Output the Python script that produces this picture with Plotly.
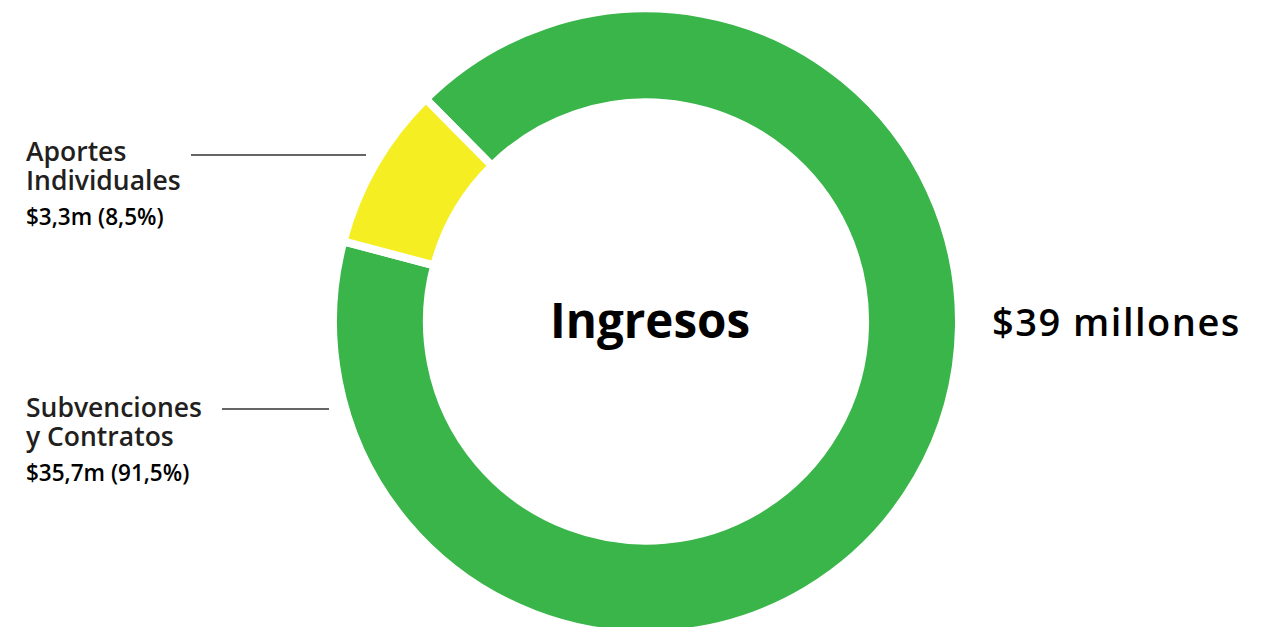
import plotly.graph_objects as go

categories = ["Subvenciones y Contratos", "Aportes Individuales"]
values = [35.7, 3.3]
colors = ["#39b54a", "#f5ee22"]
center_title = "Ingresos"
total_label = "$39 millones"
label_lines = {
    "Aportes Individuales": ["Aportes", "Individuales"],
    "Subvenciones y Contratos": ["Subvenciones", "y Contratos"],
}
value_labels = {
    "Aportes Individuales": "$3,3m (8,5%)",
    "Subvenciones y Contratos": "$35,7m (91,5%)",
}

W, H = 1273, 627
OFF = 8  # page body margin

def px(x):
    return (x - OFF) / W

def py(y):
    return 1 - (y - OFF) / H

fig = go.Figure(go.Pie(
    labels=categories,
    values=values,
    hole=0.70,
    sort=False,
    direction="clockwise",
    rotation=-44.7,
    marker=dict(colors=colors, line=dict(color="white", width=8)),
    textinfo="none",
    hoverinfo="label+value",
    showlegend=False,
    domain=dict(x=[px(646 - 313), px(646 + 313)], y=[0, 1]),
))

label_color = "#231f20"
head_font = dict(family="Open Sans", size=26.5, color=label_color, weight=600)
val_font = dict(family="Open Sans", size=22.5, color="#000000", weight=600)

ann = []
pos = {
    "Aportes Individuales": (24, [151, 180], 217),
    "Subvenciones y Contratos": (24, [407, 436], 472),
}
for cat in categories:
    x0, ys, yv = pos[cat]
    for line, yy in zip(label_lines[cat], ys):
        ann.append(dict(x=px(x0), y=py(yy), xref="paper", yref="paper", text=line,
                        showarrow=False, xanchor="left", yanchor="middle", font=head_font))
    ann.append(dict(x=px(x0), y=py(yv), xref="paper", yref="paper", text=value_labels[cat],
                    showarrow=False, xanchor="left", yanchor="middle", font=val_font))

ann.append(dict(x=px(650), y=py(319), xref="paper", yref="paper", text=center_title,
                showarrow=False, xanchor="center", yanchor="middle",
                font=dict(family="Open Sans", size=47.5, color="#000000", weight=700)))
ann.append(dict(x=px(990), y=py(321), xref="paper", yref="paper",
                text='<span style="letter-spacing:1.5px">' + total_label + '</span>',
                showarrow=False, xanchor="left", yanchor="middle",
                font=dict(family="Open Sans", size=38, color="#000000", weight=600)))

shapes = [
    dict(type="line", xref="paper", yref="paper", x0=px(191), x1=px(366), y0=py(155), y1=py(155),
         line=dict(color="#333333", width=1.5)),
    dict(type="line", xref="paper", yref="paper", x0=px(222), x1=px(329), y0=py(409), y1=py(409),
         line=dict(color="#333333", width=1.5)),
]

fig.update_layout(
    width=W, height=H,
    margin=dict(l=0, r=0, t=0, b=0),
    paper_bgcolor="white",
    plot_bgcolor="white",
    annotations=ann,
    shapes=shapes,
)

fig.write_html("out.html")
